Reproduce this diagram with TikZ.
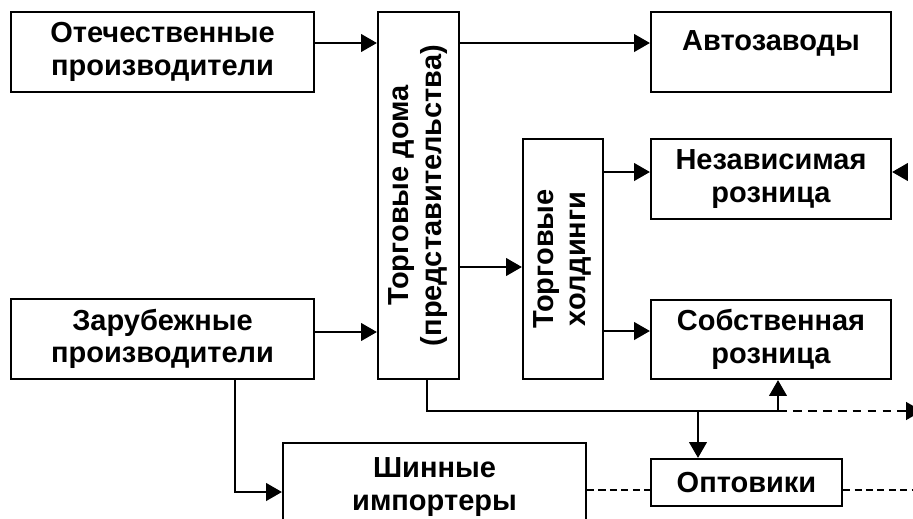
\documentclass[tikz,border=0pt]{standalone}
\usepackage{fontspec}
\setmainfont{Liberation Sans}
\usepackage{graphicx}
\usetikzlibrary{arrows.meta}

\newcommand{\vtext}[1]{\rotatebox{90}{\def\arraystretch{1.0}\begin{tabular}{@{}c@{}}#1\end{tabular}}}

\tikzset{
  box/.style={draw, line width=1.25pt, align=center, inner sep=0pt,
    font=\fontsize{16.5}{18.5}\selectfont\bfseries},
  arr/.style={-{Triangle[length=9pt,width=10pt]}, line width=1.25pt},
  linkdash/.style={dash pattern=on 4pt off 2.5pt, line width=0.75pt}
}

\begin{document}
\begin{tikzpicture}[x=0.02cm, y=-0.02cm]
  \useasboundingbox (0,0) rectangle (913,518);
  \clip (0,0) rectangle (913,518);

  % boxes
  \node[box, minimum width=6.06cm, minimum height=1.6cm] (otech) at (162.5,52) {Отечественные\\производители};
  \node[box, minimum width=6.06cm, minimum height=1.6cm] (zarub) at (162.5,339) {Зарубежные\\производители};
  \node[box, minimum width=1.62cm, minimum height=7.34cm] (tdoma) at (418.5,195.5) {\vtext{Торговые дома\\(представительства)}};
  \node[box, minimum width=1.6cm, minimum height=4.8cm] (thold) at (563,259) {\vtext{Торговые\\холдинги}};
  \node[box, minimum width=4.8cm, minimum height=1.6cm] (avto) at (771,52) {Автозаводы\\[-6pt]\mbox{}};
  \node[box, minimum width=4.8cm, minimum height=1.6cm] (nezav) at (771,179) {Независимая\\розница};
  \node[box, minimum width=4.8cm, minimum height=1.58cm] (sobst) at (771,339.5) {Собственная\\розница};
  \node[box, minimum width=6.06cm, minimum height=1.76cm] (shin) at (434.5,487) {Шинные\\импортеры};
  \node[box, minimum width=3.82cm, minimum height=0.94cm] (opt) at (746.5,482.5) {Оптовики};

  % flows
  \draw[arr] (otech.east |- 0,43) -- (tdoma.west |- 0,43);
  \draw[arr] (tdoma.east |- 0,43) -- (avto.west |- 0,43);
  \draw[arr] (zarub.east |- 0,332) -- (tdoma.west |- 0,332);
  \draw[arr] (tdoma.east |- 0,267) -- (thold.west |- 0,267);
  \draw[arr] (thold.east |- 0,172) -- (nezav.west |- 0,172);
  \draw[arr] (thold.east |- 0,331) -- (sobst.west |- 0,331);
  \draw[arr] (zarub.south -| 235,0) |- (shin.west |- 0,492);

  \coordinate (split) at (778,411);
  \coordinate (drop) at (698,411);
  \coordinate (outR) at (922,411);
  \coordinate (nzin) at (908,172);
  \coordinate (optR) at (913,490);
  \draw[line width=1.25pt] (tdoma.south -| 427,0) |- (split);
  \draw[arr] (split) -- (split |- sobst.south);
  \draw[arr] (drop) -- (drop |- opt.north);
  \draw[arr, dash pattern=on 5pt off 3.5pt] (split) -- (outR);
  \draw[arr] (nzin) -- (nezav.east |- nzin);

  % dashed links
  \draw[linkdash] (shin.east |- 0,490) -- (opt.west |- 0,490);
  \draw[linkdash] (opt.east |- 0,490) -- (optR);
\end{tikzpicture}
\end{document}
